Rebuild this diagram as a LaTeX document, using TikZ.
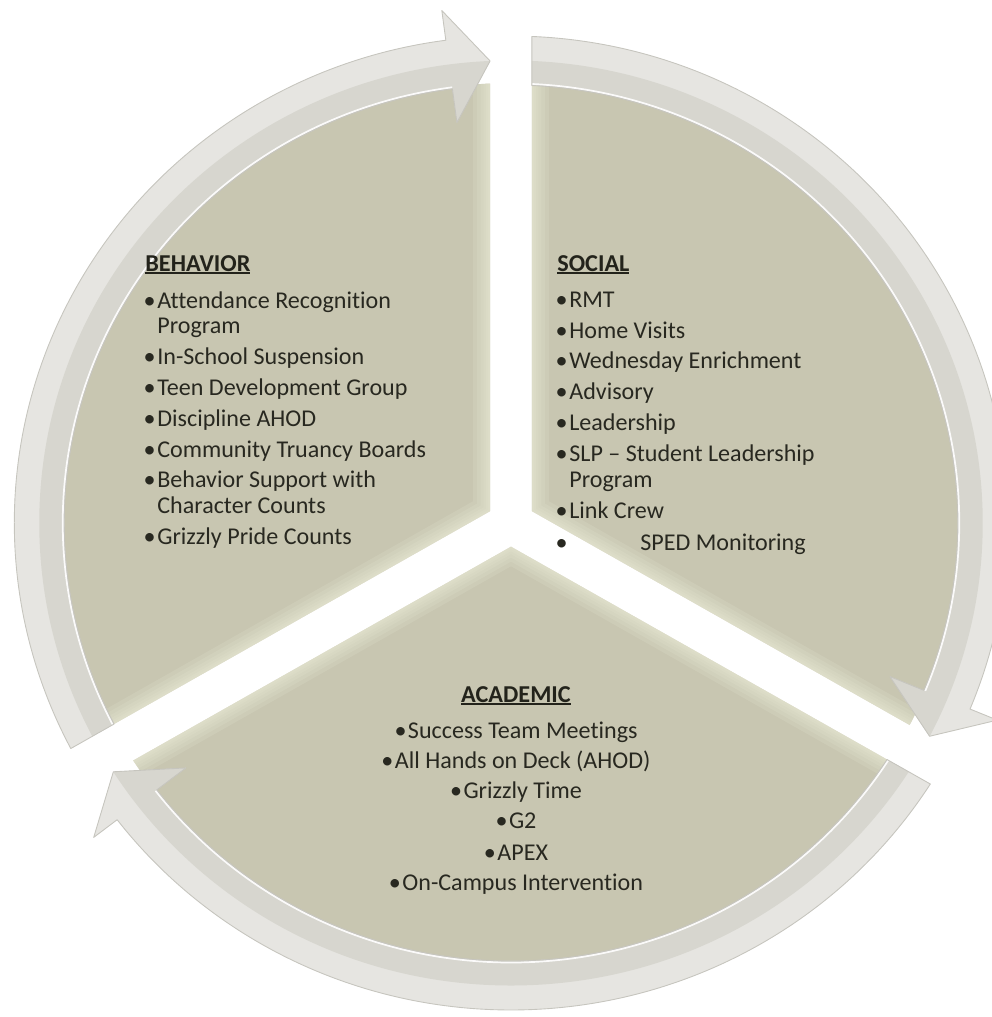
\documentclass[tikz,border=0pt]{standalone}
\usepackage{fontspec}
\setmainfont{Carlito}[Ligatures=NoCommon]
\definecolor{beige}{RGB}{200,198,177}
\definecolor{bevel}{RGB}{236,236,216}
\definecolor{bandlight}{RGB}{230,229,225}
\definecolor{banddark}{RGB}{215,214,207}
\definecolor{bandedge}{RGB}{198,197,190}
\definecolor{txt}{RGB}{40,40,32}
\definecolor{ttl}{RGB}{35,35,27}
\newcommand\myul[1]{\setbox0=\hbox{#1}\rlap{\rule[-1.8pt]{\wd0}{1.1pt}}\box0}
\newcommand\bul{\llap{\textbullet\kern0.35mm}}
\newcommand\cbul{\textbullet\kern0.3mm}
% wedges
\newcommand\wedgeB{(-20.5,11.85) -- (92.67:440) arc[start angle=92.67, end angle=207.33, radius=440] -- cycle}
\newcommand\wedgeS{(20.5,11.85) -- (-27.33:440) arc[start angle=-27.33, end angle=87.33, radius=440] -- cycle}
\newcommand\wedgeA{(0,-23.7) -- (212.67:440) arc[start angle=212.67, end angle=327.33, radius=440] -- cycle}
% arrows
\newcommand\arrB{(207.32:438) -- (207.59:487) arc[start angle=207.59, end angle=97.54, radius=487] -- (97.54:517) -- (92.54:462.5) -- (97.54:404) -- (97.54:438) arc[start angle=97.54, end angle=207.32, radius=438] -- cycle}
\newcommand\arrS{(87.32:438) -- (87.59:487) arc[start angle=87.59, end angle=-22.46, radius=487] -- (-22.46:516) -- (-27.46:462.5) -- (-22.46:402) -- (-22.46:438) arc[start angle=-22.46, end angle=87.32, radius=438] -- cycle}
\newcommand\arrA{(327.32:438) -- (327.59:487) arc[start angle=327.59, end angle=217.54, radius=487] -- (217.54:516) -- (212.54:462.5) -- (217.54:402) -- (217.54:438) arc[start angle=217.54, end angle=327.32, radius=438] -- cycle}
\begin{document}
\begin{tikzpicture}[x=0.2mm, y=-0.2mm,
  wedge/.style={fill=beige},
  bevelline/.style={draw=bevel, line join=round, opacity=0.16},
  band/.style={fill=bandlight},
  bandline/.style={draw=bandedge, line width=0.5pt, line join=round},
  hilite/.style={draw=white, line width=1pt, opacity=0.9},
  itm/.style={anchor=base west, inner sep=0pt, text=txt, font=\fontsize{13.7}{15}\selectfont},
  itmc/.style={itm, anchor=base},
  ttlst/.style={anchor=base west, inner sep=0pt, text=ttl, font=\fontsize{13.8}{15}\selectfont\bfseries},
  ttlc/.style={ttlst, anchor=base}]
\useasboundingbox (0,0) rectangle (992,1017);
\begin{scope}[shift={(511,523)}, x=0.204mm, y=0.2mm]
  % wedges
  \fill[wedge] \wedgeB;
  \fill[wedge] \wedgeS;
  \fill[wedge] \wedgeA;
  % bevel along straight edges
  \begin{scope}
    \clip \wedgeB;
    \foreach \w in {34,26,19,13,8,4}
      \draw[bevelline, line width=\w*0.569pt] (92.67:440) -- (-20.5,11.85) -- (207.33:440);
  \end{scope}
  \begin{scope}
    \clip \wedgeS;
    \foreach \w in {34,26,19,13,8,4}
      \draw[bevelline, line width=\w*0.569pt] (87.33:440) -- (20.5,11.85) -- (-27.33:440);
  \end{scope}
  \begin{scope}
    \clip \wedgeA;
    \foreach \w in {34,26,19,13,8,4}
      \draw[bevelline, line width=\w*0.569pt] (212.67:440) -- (0,-23.7) -- (327.33:440);
  \end{scope}
  % arrows
  \fill[band] \arrB;
  \begin{scope}\clip \arrB; \fill[banddark] (0,0) circle[radius=462.5]; \end{scope}
  \draw[hilite] (97.54:439.5) arc[start angle=97.54, end angle=207.3, radius=439.5];
  \path[bandline] \arrB;
  \fill[band] \arrS;
  \begin{scope}\clip \arrS; \fill[banddark] (0,0) circle[radius=462.5]; \end{scope}
  \draw[hilite] (-22.46:439.5) arc[start angle=-22.46, end angle=87.3, radius=439.5];
  \path[bandline] \arrS;
  \fill[band] \arrA;
  \begin{scope}\clip \arrA; \fill[banddark] (0,0) circle[radius=462.5]; \end{scope}
  \draw[hilite] (217.54:439.5) arc[start angle=217.54, end angle=327.3, radius=439.5];
  \path[bandline] \arrA;
\end{scope}
% BEHAVIOR
\node[ttlst] (bt) at (145,271) {\myul{BEHAVIOR}};
\node[itm] (b1) at (157,308) {\bul Attendance Recognition};
\node[itm] (b1b) at (157,333) {Program};
\node[itm] (b2) at (157,364) {\bul In-School Suspension};
\node[itm] (b3) at (157,395) {\bul Teen Development Group};
\node[itm] (b4) at (157,426) {\bul Discipline AHOD};
\node[itm] (b5) at (157,457) {\bul Community Truancy Boards};
\node[itm] (b6) at (157,487) {\bul Behavior Support with};
\node[itm] (b6b) at (157,513) {Character Counts};
\node[itm] (b7) at (157,544) {\bul Grizzly Pride Counts};
% SOCIAL
\node[ttlst] (st) at (557,271) {\myul{SOCIAL}};
\node[itm] (s1) at (569,307) {\bul RMT};
\node[itm] (s2) at (569,338) {\bul Home Visits};
\node[itm] (s3) at (569,368) {\bul Wednesday Enrichment};
\node[itm] (s4) at (569,399) {\bul Advisory};
\node[itm] (s5) at (569,430) {\bul Leadership};
\node[itm] (s6) at (569,461) {\bul SLP – Student Leadership};
\node[itm] (s6b) at (569,487) {Program};
\node[itm] (s7) at (569,518) {\bul Link Crew};
\node[itm] (s8) at (569,550) {\bul\hspace{14.2mm}SPED Monitoring};
% ACADEMIC
\node[ttlc] (at) at (516,702) {\myul{ACADEMIC}};
\node[itmc] (a1) at (516,738) {\cbul Success Team Meetings};
\node[itmc] (a2) at (516,768) {\cbul All Hands on Deck (AHOD)};
\node[itmc] (a3) at (516,798) {\cbul Grizzly Time};
\node[itmc] (a4) at (516,828) {\cbul G2};
\node[itmc] (a5) at (516,860) {\cbul APEX};
\node[itmc] (a6) at (516,890) {\cbul On-Campus Intervention};
\end{tikzpicture}
\end{document}
